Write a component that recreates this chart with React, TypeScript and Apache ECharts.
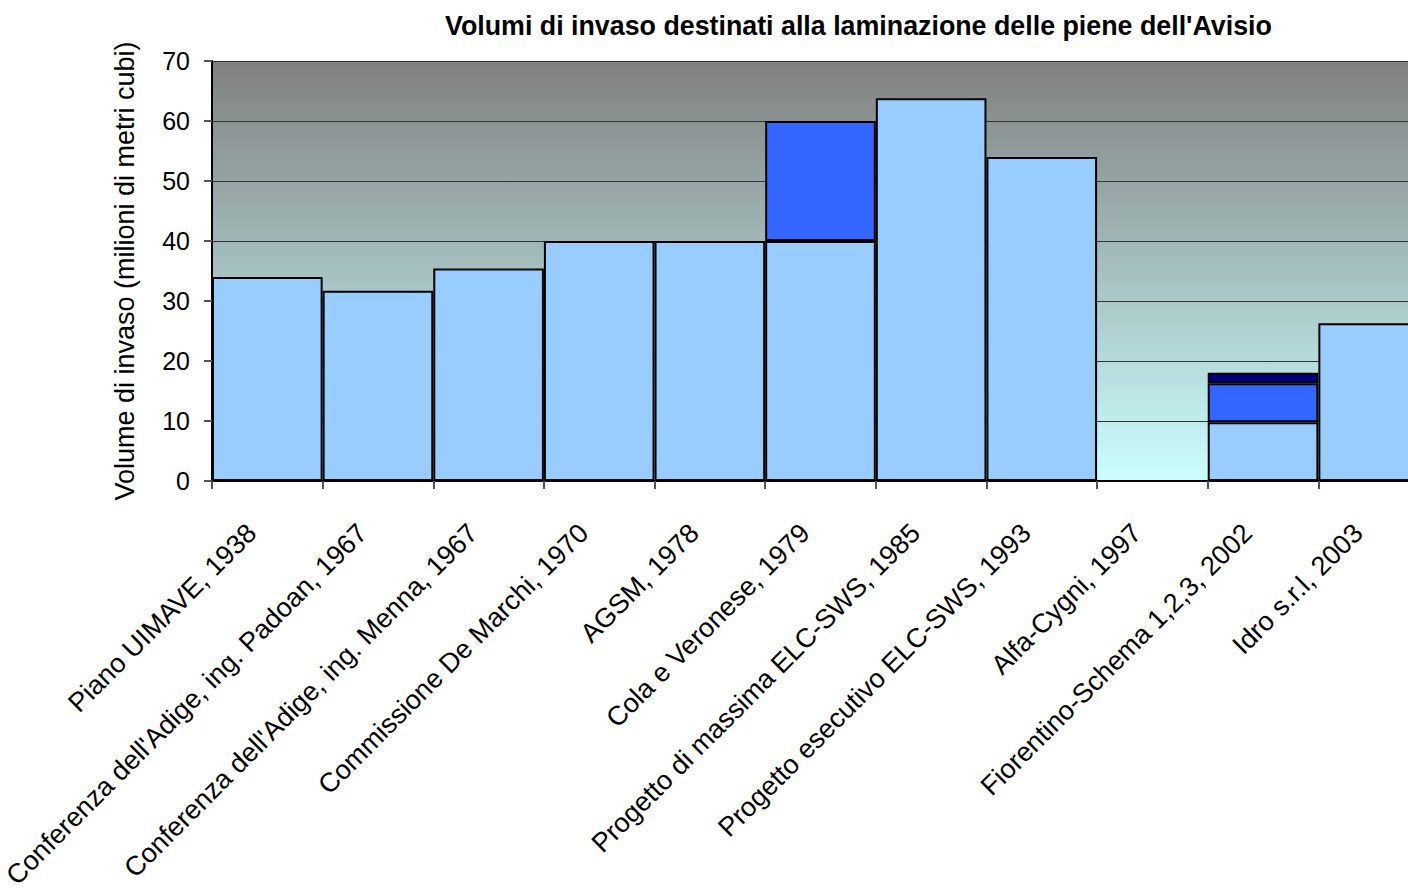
import React, { useEffect, useRef } from "react";
import * as echarts from "echarts";

const categories = [
  "Piano UIMAVE, 1938",
  "Conferenza dell'Adige, ing. Padoan, 1967",
  "Conferenza dell'Adige, ing. Menna, 1967",
  "Commissione De Marchi, 1970",
  "AGSM, 1978",
  "Cola e Veronese, 1979",
  "Progetto di massima ELC-SWS, 1985",
  "Progetto esecutivo ELC-SWS, 1993",
  "Alfa-Cygni, 1997",
  "Fiorentino-Schema 1,2,3, 2002",
  "Idro s.r.l, 2003",
];
const baseVolume = [34, 31.7, 35.4, 40, 40, 40, 63.8, 54, null, 9.8, 26.3];
const extraVolume = [null, null, null, null, null, 20, null, null, null, 6.5, null];
const topVolume = [null, null, null, null, null, null, null, null, null, 1.75, null];
const yTicks = [0, 10, 20, 30, 40, 50, 60, 70];

const TITLE = "Volumi di invaso destinati alla laminazione delle piene dell'Avisio";
const Y_NAME = "Volume di invaso (milioni di metri cubi)";

export default function App() {
  const ref = useRef<HTMLDivElement>(null);
  useEffect(() => {
    if (!ref.current) return;
    const chart = echarts.init(ref.current, null, { renderer: "svg" });
    const font = "Arial, 'Liberation Sans', sans-serif";
    const barStyle = (color: string) => ({
      color,
      borderColor: "#000",
      borderWidth: 2,
    });
    chart.setOption({
      animation: false,
      backgroundColor: "#fff",
      title: {
        text: TITLE,
        left: 440,
        top: 7,
        textStyle: { fontFamily: font, fontSize: 26.8, fontWeight: "bold", color: "#000" },
      },
      grid: {
        left: 212,
        right: 0,
        top: 61,
        bottom: 409,
        containLabel: false,
        outerBoundsMode: "none",
        show: true,
        borderWidth: 0,
        backgroundColor: {
          type: "linear",
          x: 0,
          y: 0,
          x2: 0,
          y2: 1,
          colorStops: [
            { offset: 0, color: "#808080" },
            { offset: 1, color: "#ccffff" },
          ],
        },
      },
      xAxis: {
        type: "category",
        data: categories,
        axisLine: { lineStyle: { color: "#000", width: 2 } },
        axisTick: { show: true, length: 8, lineStyle: { color: "#555", width: 2 } },
        axisLabel: {
          rotate: 45,
          interval: 0,
          margin: 32,
          padding: [0, 22, 0, 0],
          fontFamily: font,
          fontSize: 27,
          color: "#000",
        },
      },
      yAxis: {
        type: "value",
        min: 0,
        max: 70,
        interval: 10,
        name: Y_NAME,
        nameLocation: "middle",
        nameGap: 74,
        nameTextStyle: { fontFamily: font, fontSize: 27, color: "#000" },
        axisLine: { show: true, lineStyle: { color: "#000", width: 2 } },
        axisTick: { show: true, length: 8, lineStyle: { color: "#555", width: 2 } },
        axisLabel: {
          margin: 22,
          fontFamily: font,
          fontSize: 25,
          color: "#000",
          formatter: (v: number) => (yTicks.includes(v) ? String(v) : ""),
        },
        splitLine: { show: true, lineStyle: { color: "#333", width: 1 } },
      },
      series: [
        {
          type: "bar",
          stack: "v",
          data: baseVolume,
          barCategoryGap: "0%",
          itemStyle: barStyle("#99ccff"),
        },
        {
          type: "bar",
          stack: "v",
          data: extraVolume,
          itemStyle: barStyle("#3366ff"),
        },
        {
          type: "bar",
          stack: "v",
          data: topVolume,
          itemStyle: barStyle("#000080"),
        },
      ],
    });
    return () => chart.dispose();
  }, []);
  return (
    <div style={{ position: "fixed", left: 0, top: 0, width: 1408, height: 890, overflow: "hidden" }}>
      <div ref={ref} style={{ width: 1429, height: 890 }} />
    </div>
  );
}
